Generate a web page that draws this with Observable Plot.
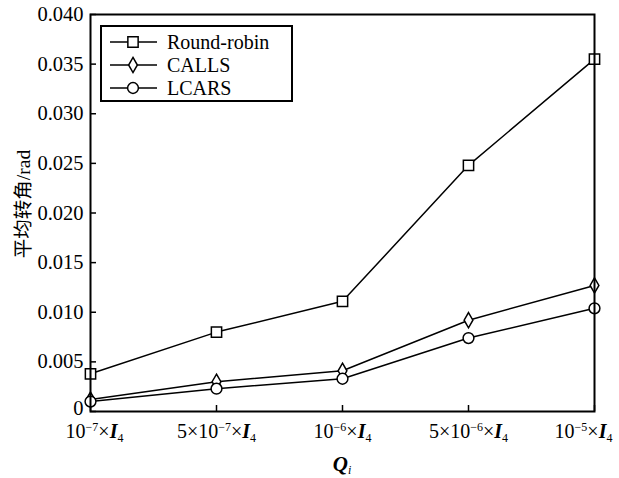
<!DOCTYPE html>
<html>
<head>
<meta charset="utf-8">
<script src="https://cdn.jsdelivr.net/npm/d3@7"></script>
<script src="https://cdn.jsdelivr.net/npm/@observablehq/plot@0.6"></script>
<style>
  html, body { margin: 0; padding: 0; background: #fff; }
  #chart { width: 619px; height: 478px; }
</style>
</head>
<body>
<div id="chart"></div>
<script>
// Noise-level categories Q_i (written as mantissa × 10^exponent × I4)
const categories = ["1e-7", "5e-7", "1e-6", "5e-6", "1e-5"];
const tickMantissa = ["", "5×", "", "5×", ""];
const tickExponent = ["−7", "−7", "−6", "−6", "−5"];

// Mean rotation angle (rad) per scheduling scheme
const seriesNames = ["Round-robin", "CALLS", "LCARS"];
const roundRobin = [0.0038, 0.0080, 0.0111, 0.0248, 0.0355];
const calls      = [0.0012, 0.0030, 0.0041, 0.0092, 0.0127];
const lcars      = [0.0010, 0.0023, 0.0033, 0.0074, 0.0104];

const yTicks = [0, 0.005, 0.010, 0.015, 0.020, 0.025, 0.030, 0.035, 0.040];
const yTickLabels = ["0", "0.005", "0.010", "0.015", "0.020", "0.025", "0.030", "0.035", "0.040"];
const yTitle = "平均转角/rad";

const seriesValues = [roundRobin, calls, lcars];
const symbols = ["square", "diamond", "circle"];
const symbolR = [5.8, 4.6, 5.4];

const rows = seriesNames.flatMap((name, s) =>
  categories.map((c, i) => ({series: name, cat: c, value: seriesValues[s][i]}))
);

const font = "Liberation Serif";
const cjkFont = "Liberation Serif, Noto Sans CJK SC";

const chart = Plot.plot({
  width: 619,
  height: 478,
  marginLeft: 90,
  marginRight: 25,
  marginTop: 14,
  marginBottom: 67,
  style: {background: "#fff", color: "#000", fontFamily: font, fontSize: "20.5px"},
  x: {type: "point", domain: categories, padding: 0, label: null},
  y: {domain: [0, 0.04], label: null},
  marks: [
    // tick labels outside the frame, tick marks pointing inward
    Plot.axisY({ticks: yTicks, tickSize: 0, tickPadding: 7,
      tickFormat: d => yTickLabels[yTicks.indexOf(d)], label: null}),
    Plot.axisY({ticks: yTicks, tickSize: 6, dx: 6, tickFormat: () => "", label: null, strokeWidth: 1.5}),
    Plot.axisX({tickSize: 0, tickPadding: 12, tickFormat: d => d, label: null}),
    Plot.axisX({tickSize: 6, dy: -6, tickFormat: () => "", label: null, strokeWidth: 1.5}),
    Plot.line(rows, {x: "cat", y: "value", z: "series", stroke: "#000", strokeWidth: 1.5}),
    ...seriesNames.map((name, s) =>
      Plot.dot(rows.filter(d => d.series === name), {
        x: "cat", y: "value", symbol: symbols[s], r: symbolR[s],
        fill: "#fff", stroke: "#000", strokeWidth: 1.5
      })
    ),
    Plot.frame({stroke: "#000", strokeWidth: 2})
  ]
});

document.getElementById("chart").appendChild(chart);

const svg = d3.select(chart);

// Lift the "0" label a little off the baseline corner
svg.select('g[aria-label="y-axis tick label"]').selectAll("text")
  .filter(function() { return this.textContent === "0"; })
  .each(function() {
    const tr = this.getAttribute("transform") || "";
    this.setAttribute("transform", tr + " translate(0,-3)");
  });

// Rich x tick labels: [5×]10^exp × I_4 (first tick-label group holds the text)
svg.select('g[aria-label="x-axis tick label"]').selectAll("text").each(function(d, i) {
  const t = d3.select(this).style("font-size", "20px");
  t.text(null);
  const first = t.append("tspan").text(tickMantissa[i] + "10");
  if (i === 0) first.attr("dx", 4);
  if (i === categories.length - 1) first.attr("dx", -11);
  t.append("tspan").style("font-size", "12px").attr("dy", -7).text(tickExponent[i]);
  t.append("tspan").attr("dy", 7).text("×");
  t.append("tspan").attr("font-weight", "bold").attr("font-style", "italic").text("I");
  t.append("tspan").style("font-size", "12px").attr("dy", 4).text("4");
});

// y-axis title
svg.append("text")
  .attr("transform", "translate(23,204) rotate(-90)")
  .attr("text-anchor", "middle")
  .attr("dy", "0.35em")
  .style("font-family", cjkFont)
  .style("font-size", "19.5px")
  .text(yTitle);

// x-axis title Q_i
const xs = chart.scale("x");
const xMid = (xs.range[0] + xs.range[1]) / 2;
const xt = svg.append("text")
  .attr("x", xMid).attr("y", 471)
  .attr("text-anchor", "middle")
  .style("font-family", font)
  .style("font-size", "21px");
xt.append("tspan").attr("font-weight", "bold").attr("font-style", "italic").text("Q");
xt.append("tspan").attr("font-style", "italic").style("font-size", "12px").attr("dy", 3).text("i");

// Legend box
const lg = svg.append("g").style("font-family", font).style("font-size", "20px").attr("text-anchor", "start");
lg.append("rect").attr("x", 101).attr("y", 26).attr("width", 191).attr("height", 75)
  .attr("fill", "#fff").attr("stroke", "#000").attr("stroke-width", 2);
const d3Sym = {square: d3.symbolSquare, diamond: d3.symbolDiamond, circle: d3.symbolCircle};
seriesNames.forEach((name, s) => {
  const y = 42 + s * 23;
  lg.append("line").attr("x1", 110).attr("x2", 157).attr("y1", y).attr("y2", y)
    .attr("stroke", "#000").attr("stroke-width", 1.5);
  lg.append("path")
    .attr("d", d3.symbol(d3Sym[symbols[s]], Math.PI * symbolR[s] * symbolR[s])())
    .attr("transform", `translate(133,${y})`)
    .attr("fill", "#fff").attr("stroke", "#000").attr("stroke-width", 1.5);
  lg.append("text").attr("x", 167).attr("y", y).attr("dy", "0.35em").text(name);
});
</script>
</body>
</html>
